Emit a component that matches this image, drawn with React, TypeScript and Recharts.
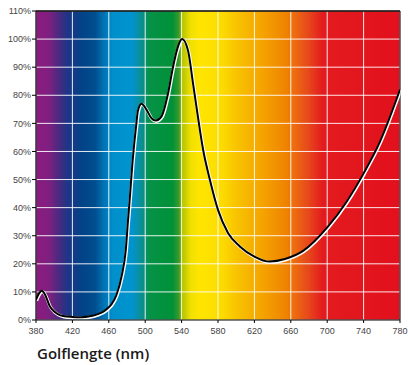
import React from "react";
import { LineChart, Line, XAxis, YAxis, CartesianGrid, ReferenceLine } from "recharts";

const wavelengths = [380, 383, 386.5, 390, 395, 400, 404, 410, 420, 430, 439, 447, 454, 459, 463, 468.5, 474, 478.7, 481, 483, 486, 488, 490, 492, 496, 501.5, 507, 511.5, 518, 525, 530.5, 536, 540.5, 547, 552.5, 556.5, 563.7, 571, 580, 591, 604, 620, 637, 653.5, 673.5, 701, 721.5, 740, 758, 780];
const intensity = [7.2, 9.3, 10.4, 9, 5, 3, 2.1, 1.4, 1.1, 1.0, 1.3, 2, 3, 4.3, 5.6, 9, 15.5, 25, 35, 43, 56, 63, 69, 74.5, 77, 74.8, 71.8, 71, 72.5, 80.5, 90, 97.3, 100, 96, 84.3, 75.5, 60.5, 50, 39.2, 31, 26.2, 22.6, 20.8, 21.7, 24.6, 33.3, 42.2, 52.2, 63.5, 82];
const xTicks = [380, 420, 460, 500, 540, 580, 620, 660, 700, 740, 780];
const yTicks = [0, 10, 20, 30, 40, 50, 60, 70, 80, 90, 100, 110];
const xTitle = "Golflengte (nm)";

const spectrumStops: [number, string][] = [
  [380, "#8E1A80"], [395, "#7D2080"], [405, "#4A2A80"], [415, "#1E3586"], [430, "#034287"],
  [445, "#004E8F"], [455, "#0075B5"], [465, "#0090CC"], [485, "#0094CF"], [495, "#0A8F9A"],
  [505, "#059246"], [530, "#009138"], [537, "#3A9A2A"], [541, "#B5C400"], [550, "#F0E000"],
  [560, "#FFE500"], [585, "#FCDB00"], [600, "#F8C400"], [630, "#F4A200"], [655, "#EF8300"],
  [665, "#EC6A10"], [680, "#E6461C"], [695, "#E31B1E"], [780, "#E2101D"],
];

const data = wavelengths.map((w, i) => ({ w, v: intensity[i] }));

const tickStyle = { fontSize: 9, fill: "#444", fontFamily: "Liberation Sans, Arial, sans-serif" };

export default function App() {
  return (
    <div style={{ position: "absolute", left: 0, top: 0, width: 408, height: 365, background: "#fff" }}>
      <LineChart width={408} height={340} data={data} margin={{ top: 11, right: 8, left: 0, bottom: 0 }}>
        <defs>
          <linearGradient id="spec" x1="0" y1="0" x2="1" y2="0">
            {spectrumStops.map(([nm, c]) => (
              <stop key={nm} offset={(nm - 380) / 400} stopColor={c} />
            ))}
          </linearGradient>
        </defs>
        <CartesianGrid fill="url(#spec)" fillOpacity={1} stroke="#ffffff" strokeWidth={1} strokeOpacity={0.9} horizontalValues={yTicks} verticalValues={xTicks} />
        <XAxis
          dataKey="w"
          type="number"
          domain={[380, 780]}
          ticks={xTicks}
          interval={0}
          height={20}
          tick={tickStyle}
          tickSize={3}
          tickMargin={5}
          axisLine={{ stroke: "#000", strokeWidth: 1.2 }}
          tickLine={{ stroke: "#000" }}
          allowDataOverflow
        />
        <YAxis
          type="number"
          domain={[0, 110]}
          ticks={yTicks}
          interval={0}
          width={36}
          tick={tickStyle}
          tickSize={4}
          tickMargin={1}
          tickFormatter={(v: number) => `${v}%`}
          axisLine={{ stroke: "#000", strokeWidth: 1.2 }}
          tickLine={{ stroke: "#000" }}
        />
        <ReferenceLine y={110} stroke="#000" strokeWidth={1.5} />
        <ReferenceLine x={780} stroke="#222" strokeWidth={1.2} />
        <Line dataKey="v" type="monotone" stroke="#ffffff" strokeWidth={3.2} dot={false} activeDot={false} isAnimationActive={false} transform="translate(0.6,0.8)" />
        <Line dataKey="v" type="monotone" stroke="#000000" strokeWidth={2} dot={false} activeDot={false} isAnimationActive={false} />
      </LineChart>
      <div style={{ position: "absolute", left: 37, top: 343, fontFamily: "'Open Sans', sans-serif", fontSize: 15, fontWeight: 600, color: "#1a1a1a", whiteSpace: "nowrap", lineHeight: "20px" }}>
        {xTitle}
      </div>
    </div>
  );
}
